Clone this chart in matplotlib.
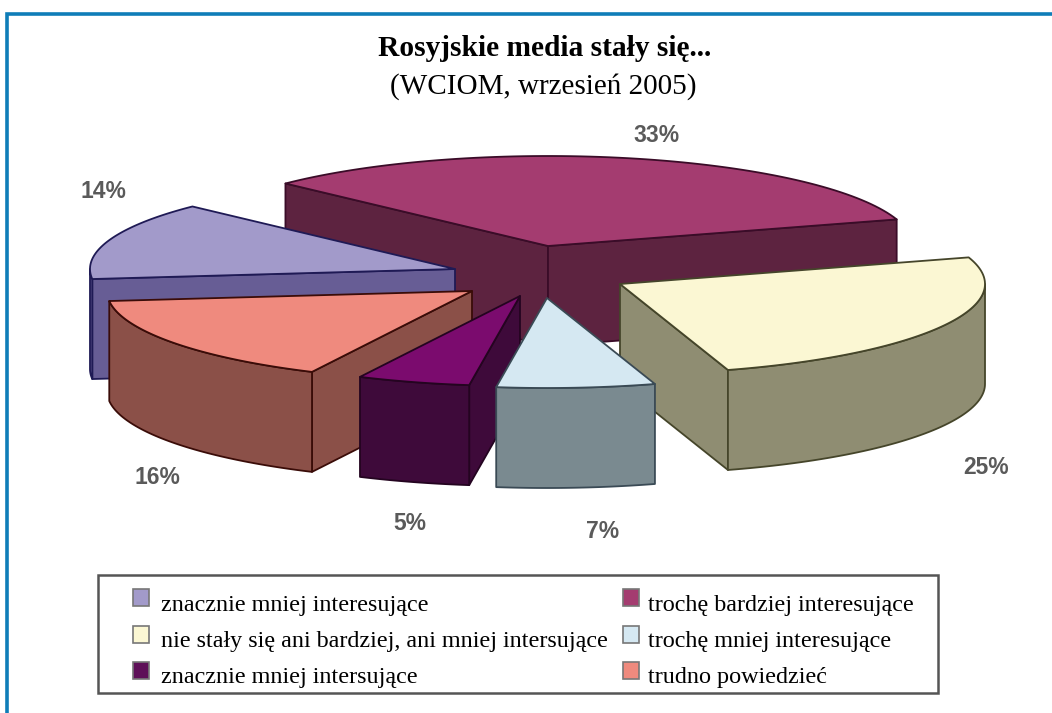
"""Rosyjskie media - exploded 3D pie, drawn by hand from slice shares."""

import matplotlib
matplotlib.use("Agg")
import matplotlib.pyplot as plt
from matplotlib.patches import Polygon, Rectangle
import numpy as np

plt.rcParams["font.family"] = ["Liberation Serif", "DejaVu Serif"]

# shares, clockwise from the back left edge of the biggest slice
values = [33, 25, 7, 5, 16, 14]
top_colors = ["#A43C70", "#FBF7D3", "#D5E8F2", "#7B0B6E", "#EF8A7E", "#A29ACA"]
wall_colors = ["#5D2340", "#8F8D72", "#7A8A90", "#3E0A3A", "#8B5048", "#675D95"]
edge_colors = ["#3A0C28", "#45452A", "#3A4A55", "#240420", "#3A0C08", "#1F1A55"]

legend_labels = [
    "znacznie mniej interesujące",
    "nie stały się ani bardziej, ani mniej intersujące",
    "znacznie mniej intersujące",
    "trochę bardziej interesujące",
    "trochę mniej interesujące",
    "trudno powiedzieć",
]
legend_colors = ["#A29ACA", "#FBF7D3", "#5E0F58", "#A43C70", "#D5E8F2", "#EF8A7E"]

# layout, in pixels of the target
START_ANGLE = 136.0
RX, RY, DEPTH = 365.0, 90.0, 100.0
apexes = [(548, 246), (620, 284), (547, 298), (520, 296), (472, 291), (455, 269)]
label_pos = [(656, 136), (986, 467), (603, 531), (410, 524), (157, 477), (103, 191)]
draw_order = [0, 5, 1, 4, 3, 2]


def rim(apex, angles):
    t = np.radians(angles)
    return np.column_stack([apex[0] + RX * np.cos(t), apex[1] - RY * np.sin(t)])


def add_face(ax, pts, color, edge):
    ax.add_patch(Polygon(pts, closed=True, facecolor=color, edgecolor=edge, linewidth=1.3, joinstyle="round"))


fig = plt.figure(figsize=(10.52, 7.13), dpi=100)
ax = fig.add_axes([0, 0, 1, 1])
ax.set_xlim(0, 1052)
ax.set_ylim(713, 0)
ax.axis("off")

# blue page frame
ax.plot([7, 7, 1052], [713, 14, 14], color="#0F7DB8", linewidth=2.6, solid_joinstyle="miter")

# slices
ends = START_ANGLE - 3.6 * np.cumsum(values)
starts = np.r_[START_ANGLE, ends[:-1]]
for i in draw_order:
    a0, a1 = starts[i], ends[i]
    apex = np.array(apexes[i], dtype=float)
    down = np.array([0, DEPTH])
    # cut faces that look towards the viewer
    for ang, visible in ((a0, np.cos(np.radians(a0)) < 0), (a1, np.cos(np.radians(a1)) > 0)):
        if visible:
            p = rim(apex, [ang])[0]
            add_face(ax, [apex, p, p + down, apex + down], wall_colors[i], edge_colors[i])
    # front part of the outer wall
    w0, w1 = min(a0, 0), max(a1, -180)
    if w0 > w1:
        arc = rim(apex, np.linspace(w0, w1, 60))
        add_face(ax, np.vstack([arc, (arc + down)[::-1]]), wall_colors[i], edge_colors[i])
    top = np.vstack([apex, rim(apex, np.linspace(a0, a1, 80))])
    add_face(ax, top, top_colors[i], edge_colors[i])

# percent labels
for v, (x, y) in zip(values, label_pos):
    ax.text(x, y, f"{v}%", ha="center", va="center", fontsize=16.5, color="#5a5a5a",
            family=["Liberation Sans"], fontweight="bold")

# titles
ax.text(545, 49, "Rosyjskie media stały się...", ha="center", va="center", fontsize=21.2, fontweight="bold")
ax.text(543, 87, "(WCIOM, wrzesień 2005)", ha="center", va="center", fontsize=21)

# legend box
ax.add_patch(Rectangle((98, 575), 840, 118, facecolor="white", edgecolor="#555555", linewidth=1.8))
for k, (label, color) in enumerate(zip(legend_labels, legend_colors)):
    col, row = k // 3, k % 3
    y = 605 + row * 36.5
    sx = 133 if col == 0 else 623
    tx = 161 if col == 0 else 648
    ax.add_patch(Rectangle((sx, y - 16), 16, 17, facecolor=color, edgecolor="#777777", linewidth=1.2))
    ax.text(tx, y, label, ha="left", va="center", fontsize=17.4)

fig.savefig("out.png", dpi=100)
plt.close(fig)
